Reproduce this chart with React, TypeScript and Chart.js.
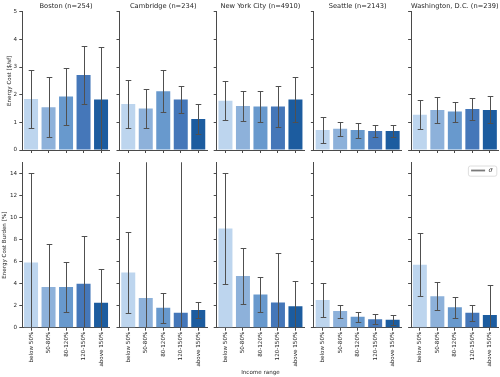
import React, { useEffect, useRef } from 'react';
import { Chart, registerables } from 'chart.js';

Chart.register(...registerables);

// ---------- data ----------
const incomeRanges = ['below 50%', '50-80%', '80-120%', '120-150%', 'above 150%'];
const cityTitles = [
  'Boston (n=254)',
  'Cambridge (n=234)',
  'New York City (n=4910)',
  'Seattle (n=2143)',
  'Washington, D.C. (n=239)',
];

// Energy cost [$/sf] : mean and standard deviation per income range
const bostonCost = [1.84, 1.55, 1.93, 2.71, 1.83];
const bostonCostSd = [1.06, 1.09, 1.02, 1.05, 1.9];
const cambridgeCost = [1.66, 1.5, 2.12, 1.83, 1.12];
const cambridgeCostSd = [0.86, 0.69, 0.76, 0.48, 0.55];
const nycCost = [1.78, 1.59, 1.57, 1.57, 1.83];
const nycCostSd = [0.71, 0.54, 0.57, 0.74, 0.81];
const seattleCost = [0.72, 0.77, 0.72, 0.69, 0.69];
const seattleCostSd = [0.46, 0.26, 0.27, 0.23, 0.23];
const dcCost = [1.27, 1.45, 1.39, 1.48, 1.45];
const dcCostSd = [0.52, 0.48, 0.36, 0.4, 0.49];

// Energy cost burden [%] : mean and standard deviation per income range
const bostonBurden = [5.93, 3.69, 3.69, 3.99, 2.27];
const bostonBurdenSd = [8.13, 3.9, 2.25, 4.33, 3.08];
const cambridgeBurden = [5.02, 2.69, 1.81, 1.36, 1.6];
const cambridgeBurdenSd = [3.65, 16.0, 1.35, 18.0, 0.76];
const nycBurden = [9.01, 4.69, 3.02, 2.3, 1.94];
const nycBurdenSd = [5.02, 2.53, 1.6, 4.5, 2.33];
const seattleBurden = [2.51, 1.51, 1.0, 0.76, 0.73];
const seattleBurdenSd = [1.56, 0.59, 0.45, 0.45, 0.47];
const dcBurden = [5.72, 2.87, 1.87, 1.36, 1.15];
const dcBurdenSd = [2.85, 1.3, 0.95, 0.73, 2.69];

const costMeans = [bostonCost, cambridgeCost, nycCost, seattleCost, dcCost];
const costSds = [bostonCostSd, cambridgeCostSd, nycCostSd, seattleCostSd, dcCostSd];
const burdenMeans = [bostonBurden, cambridgeBurden, nycBurden, seattleBurden, dcBurden];
const burdenSds = [bostonBurdenSd, cambridgeBurdenSd, nycBurdenSd, seattleBurdenSd, dcBurdenSd];

const costTicksMax = 5;
const burdenTicksMax = 15;

// ---------- styles ----------
const barColors = ['#bdd5ee', '#8db1da', '#6899cd', '#4577b9', '#1c5c9f'];
const FONT = "'DejaVu Sans', 'Liberation Sans', sans-serif";
const TEXT = '#262626';
const AXIS = '#4a4a4a';
const ERR = '#505050';

// layout (pixels)
const PLOT_W = 87.5;
const colLefts = [22.3, 119.5, 216.7, 313.9, 411.1];
const rows = [
  { canvasTop: 0, canvasH: 157, plotTop: 11.7, plotBottom: 150 },
  { canvasTop: 152, canvasH: 225, plotTop: 162.7, plotBottom: 327.7 },
];

const errorBarPlugin = {
  id: 'errorBars',
  afterDatasetsDraw(chart: any) {
    const ds = chart.data.datasets[0];
    const sd: number[] = ds.sd;
    if (!sd) return;
    const meta = chart.getDatasetMeta(0);
    const y = chart.scales.y;
    const { ctx, chartArea } = chart;
    ctx.save();
    ctx.beginPath();
    ctx.rect(chartArea.left, chartArea.top - 0.5, chartArea.right - chartArea.left, chartArea.bottom - chartArea.top + 0.5);
    ctx.clip();
    ctx.strokeStyle = ERR;
    ctx.lineWidth = 1;
    const cap = 2.8;
    meta.data.forEach((bar: any, i: number) => {
      const v = ds.data[i];
      const hi = Math.round(y.getPixelForValue(v + sd[i])) + 0.5;
      const lo = Math.round(y.getPixelForValue(v - sd[i])) + 0.5;
      const x = Math.round(bar.x) + 0.5;
      ctx.beginPath();
      ctx.moveTo(x, hi);
      ctx.lineTo(x, lo);
      ctx.moveTo(x - cap, hi);
      ctx.lineTo(x + cap, hi);
      ctx.moveTo(x - cap, lo);
      ctx.lineTo(x + cap, lo);
      ctx.stroke();
    });
    ctx.restore();
  },
};

const sigmaLegendPlugin = {
  id: 'sigmaLegend',
  afterDraw(chart: any) {
    if (!chart.options.plugins.sigmaLegend || !chart.options.plugins.sigmaLegend.show) return;
    const { ctx, chartArea } = chart;
    const R = chartArea.right;
    const T = chartArea.top;
    ctx.save();
    const x0 = R - 30.2, x1 = R - 1.8, y0 = T + 3.3, y1 = T + 13.5;
    ctx.beginPath();
    ctx.roundRect(x0, y0, x1 - x0, y1 - y0, 2);
    ctx.fillStyle = 'rgba(255,255,255,0.8)';
    ctx.fill();
    ctx.strokeStyle = '#d6d6d6';
    ctx.lineWidth = 0.8;
    ctx.stroke();
    const ly = T + 7.8;
    ctx.beginPath();
    ctx.moveTo(R - 27.5, ly);
    ctx.lineTo(R - 13.5, ly);
    ctx.strokeStyle = '#7a7a7a';
    ctx.lineWidth = 1.8;
    ctx.stroke();
    ctx.fillStyle = TEXT;
    ctx.font = `italic 6.3px ${FONT}`;
    ctx.textBaseline = 'middle';
    ctx.textAlign = 'left';
    ctx.fillText('σ', R - 10.2, ly);
    ctx.restore();
  },
};

type Panel = {
  key: string;
  row: number;
  col: number;
  left: number;
  top: number;
  w: number;
  h: number;
  padL: number;
  padR: number;
};

const panels: Panel[] = [];
rows.forEach((r, row) => {
  colLefts.forEach((cl, col) => {
    const left = col === 0 ? 0 : Math.floor(cl) - 10;
    const padL = cl - left;
    const w = Math.ceil(padL + PLOT_W + 4);
    const padR = w - padL - PLOT_W;
    panels.push({ key: `${row}-${col}`, row, col, left, top: r.canvasTop, w, h: r.canvasH, padL, padR });
  });
});

function makeConfig(p: Panel): any {
  const isTop = p.row === 0;
  const r = rows[p.row];
  const means = isTop ? costMeans[p.col] : burdenMeans[p.col];
  const sds = isTop ? costSds[p.col] : burdenSds[p.col];
  const tickFont = { size: 5.6, family: FONT };
  const labelFont = { size: 5.6, family: FONT };
  const xAxisH = r.canvasTop + r.canvasH - r.plotBottom;
  return {
    type: 'bar',
    data: {
      labels: incomeRanges,
      datasets: [
        {
          data: means,
          sd: sds,
          backgroundColor: barColors,
          borderWidth: 0,
          categoryPercentage: 1,
          barPercentage: 0.8,
        },
      ],
    },
    options: {
      responsive: false,
      animation: false,
      events: [],
      layout: {
        padding: {
          left: 0,
          right: p.padR,
          top: isTop ? 0 : r.plotTop - r.canvasTop,
          bottom: 0,
        },
      },
      plugins: {
        legend: { display: false },
        tooltip: { enabled: false },
        title: {
          display: isTop,
          text: cityTitles[p.col],
          fullSize: false,
          color: TEXT,
          font: { size: 6.7, family: FONT, weight: 'normal' },
          padding: { top: 1.98, bottom: r.plotTop - r.canvasTop - 1.98 - 6.7 * 1.2 },
        },
        sigmaLegend: { show: !isTop && p.col === 4 },
      },
      scales: {
        x: {
          offset: true,
          grid: {
            offset: false,
            drawOnChartArea: false,
            drawTicks: true,
            tickLength: 3,
            color: AXIS,
            lineWidth: 1,
          },
          border: { display: true, color: AXIS, width: 1 },
          ticks: {
            display: !isTop,
            autoSkip: false,
            minRotation: 90,
            maxRotation: 90,
            font: tickFont,
            color: TEXT,
            padding: 1,
          },
          title: {
            display: !isTop && p.col === 2,
            text: 'Income range',
            color: TEXT,
            font: labelFont,
            padding: { top: 0, bottom: 1.34 },
          },
          afterFit: (s: any) => {
            s.height = xAxisH;
          },
        },
        y: {
          min: 0,
          max: isTop ? costTicksMax : burdenTicksMax,
          grid: {
            drawOnChartArea: false,
            drawTicks: true,
            tickLength: 3,
            color: AXIS,
            lineWidth: 1,
          },
          border: { display: true, color: AXIS, width: 1 },
          ticks: {
            display: p.col === 0,
            stepSize: isTop ? 1 : 2,
            includeBounds: false,
            font: tickFont,
            color: TEXT,
            padding: 2.3,
          },
          title: {
            display: p.col === 0,
            text: isTop ? 'Energy Cost [$/sf]' : 'Energy Cost Burden [%]',
            color: TEXT,
            font: labelFont,
            padding: { top: isTop ? 6.64 : 1.64, bottom: 0 },
          },
          afterFit: (s: any) => {
            s.width = p.padL;
          },
        },
      },
    },
    plugins: [errorBarPlugin, sigmaLegendPlugin],
  };
}

export default function App() {
  const refs = useRef<(HTMLCanvasElement | null)[]>([]);

  useEffect(() => {
    const charts: Chart[] = [];
    panels.forEach((p, i) => {
      const c = refs.current[i];
      if (c) charts.push(new Chart(c, makeConfig(p)));
    });
    return () => {
      charts.forEach((ch) => ch.destroy());
    };
  }, []);

  return (
    <div
      style={{
        position: 'fixed',
        left: 0,
        top: 0,
        width: 500,
        height: 377,
        background: '#ffffff',
        overflow: 'hidden',
      }}
    >
      {panels.map((p, i) => (
        <canvas
          key={p.key}
          ref={(el) => {
            refs.current[i] = el;
          }}
          width={p.w}
          height={p.h}
          style={{ position: 'absolute', left: p.left, top: p.top, width: p.w, height: p.h }}
        />
      ))}
    </div>
  );
}
